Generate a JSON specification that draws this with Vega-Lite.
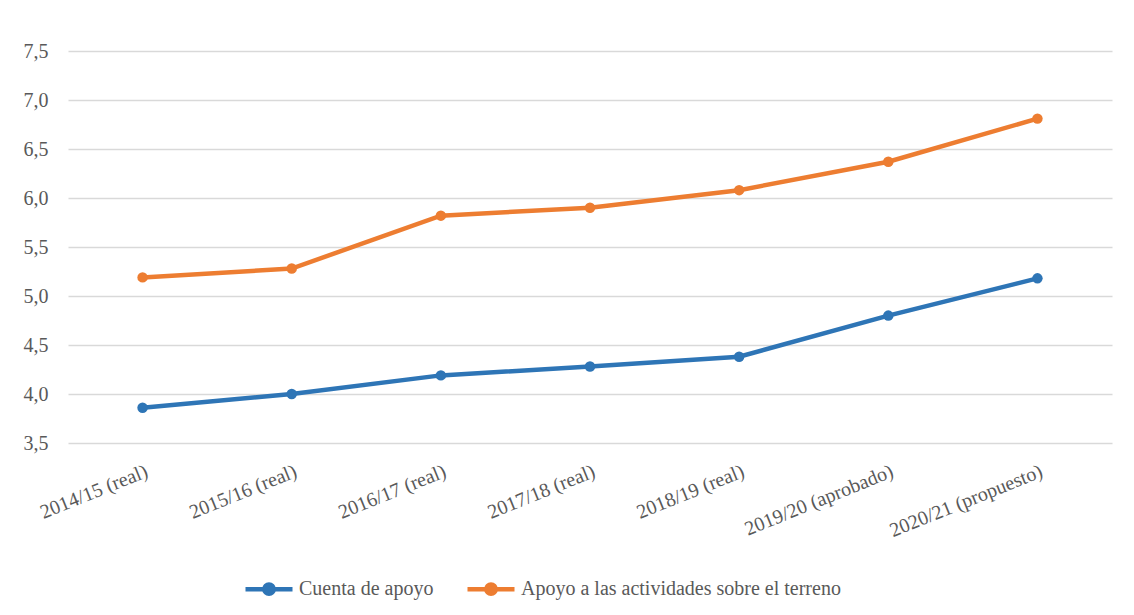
{
  "$schema": "https://vega.github.io/schema/vega-lite/v6.json",
  "autosize": {"type": "none"},
  "width": 1044,
  "height": 392,
  "padding": {"left": 68, "top": 51, "right": 22, "bottom": 172},
  "background": "white",
  "config": {
    "view": {"stroke": null},
    "font": "Liberation Serif"
  },
  "data": {
    "values": [
      {"periodo": "2014/15 (real)", "serie": "Cuenta de apoyo", "valor": 3.86},
      {"periodo": "2015/16 (real)", "serie": "Cuenta de apoyo", "valor": 4.0},
      {"periodo": "2016/17 (real)", "serie": "Cuenta de apoyo", "valor": 4.19},
      {"periodo": "2017/18 (real)", "serie": "Cuenta de apoyo", "valor": 4.28},
      {"periodo": "2018/19 (real)", "serie": "Cuenta de apoyo", "valor": 4.38},
      {"periodo": "2019/20 (aprobado)", "serie": "Cuenta de apoyo", "valor": 4.8},
      {"periodo": "2020/21 (propuesto)", "serie": "Cuenta de apoyo", "valor": 5.18},
      {"periodo": "2014/15 (real)", "serie": "Apoyo a las actividades sobre el terreno", "valor": 5.19},
      {"periodo": "2015/16 (real)", "serie": "Apoyo a las actividades sobre el terreno", "valor": 5.28},
      {"periodo": "2016/17 (real)", "serie": "Apoyo a las actividades sobre el terreno", "valor": 5.82},
      {"periodo": "2017/18 (real)", "serie": "Apoyo a las actividades sobre el terreno", "valor": 5.9},
      {"periodo": "2018/19 (real)", "serie": "Apoyo a las actividades sobre el terreno", "valor": 6.08},
      {"periodo": "2019/20 (aprobado)", "serie": "Apoyo a las actividades sobre el terreno", "valor": 6.37},
      {"periodo": "2020/21 (propuesto)", "serie": "Apoyo a las actividades sobre el terreno", "valor": 6.81}
    ]
  },
  "mark": {
    "type": "line",
    "strokeWidth": 4.5,
    "point": {"size": 110, "filled": true}
  },
  "encoding": {
    "x": {
      "field": "periodo",
      "type": "nominal",
      "sort": null,
      "scale": {"type": "point", "padding": 0.5},
      "axis": {
        "title": null,
        "labelAngle": -22,
        "labelFont": "Liberation Serif",
        "labelFontSize": 20,
        "labelColor": "#595959",
        "labelPadding": 18,
        "labelDx": -10,
        "labelLimit": 400,
        "domain": false,
        "ticks": false,
        "grid": false
      }
    },
    "y": {
      "field": "valor",
      "type": "quantitative",
      "scale": {"domain": [3.5, 7.5], "zero": false, "nice": false},
      "axis": {
        "title": null,
        "values": [3.5, 4.0, 4.5, 5.0, 5.5, 6.0, 6.5, 7.0, 7.5],
        "labelExpr": "replace(format(datum.value, '.1f'), '.', ',')",
        "labelFont": "Liberation Serif",
        "labelFontSize": 20,
        "labelColor": "#595959",
        "labelPadding": 20,
        "domain": false,
        "ticks": false,
        "grid": true,
        "gridColor": "#d9d9d9",
        "gridWidth": 1.5
      }
    },
    "color": {
      "field": "serie",
      "type": "nominal",
      "sort": ["Cuenta de apoyo", "Apoyo a las actividades sobre el terreno"],
      "scale": {
        "domain": ["Cuenta de apoyo", "Apoyo a las actividades sobre el terreno"],
        "range": ["#2E75B6", "#ED7D31"]
      },
      "legend": {
        "title": null,
        "orient": "none",
        "direction": "horizontal",
        "legendX": 175,
        "legendY": 512,
        "symbolType": "M-1,0H1M-0.2,0A0.2,0.2 0 1,0 0.2,0A0.2,0.2 0 1,0 -0.2,0Z",
        "symbolSize": 2209,
        "symbolStrokeWidth": 4.5,
        "labelFont": "Liberation Serif",
        "labelFontSize": 20,
        "labelColor": "#595959",
        "labelOffset": 4,
        "labelLimit": 600,
        "columnPadding": 24,
        "encode": {
          "symbols": {
            "update": {
              "fill": {"scale": "color", "field": "value"},
              "stroke": {"scale": "color", "field": "value"}
            }
          }
        }
      }
    }
  }
}
